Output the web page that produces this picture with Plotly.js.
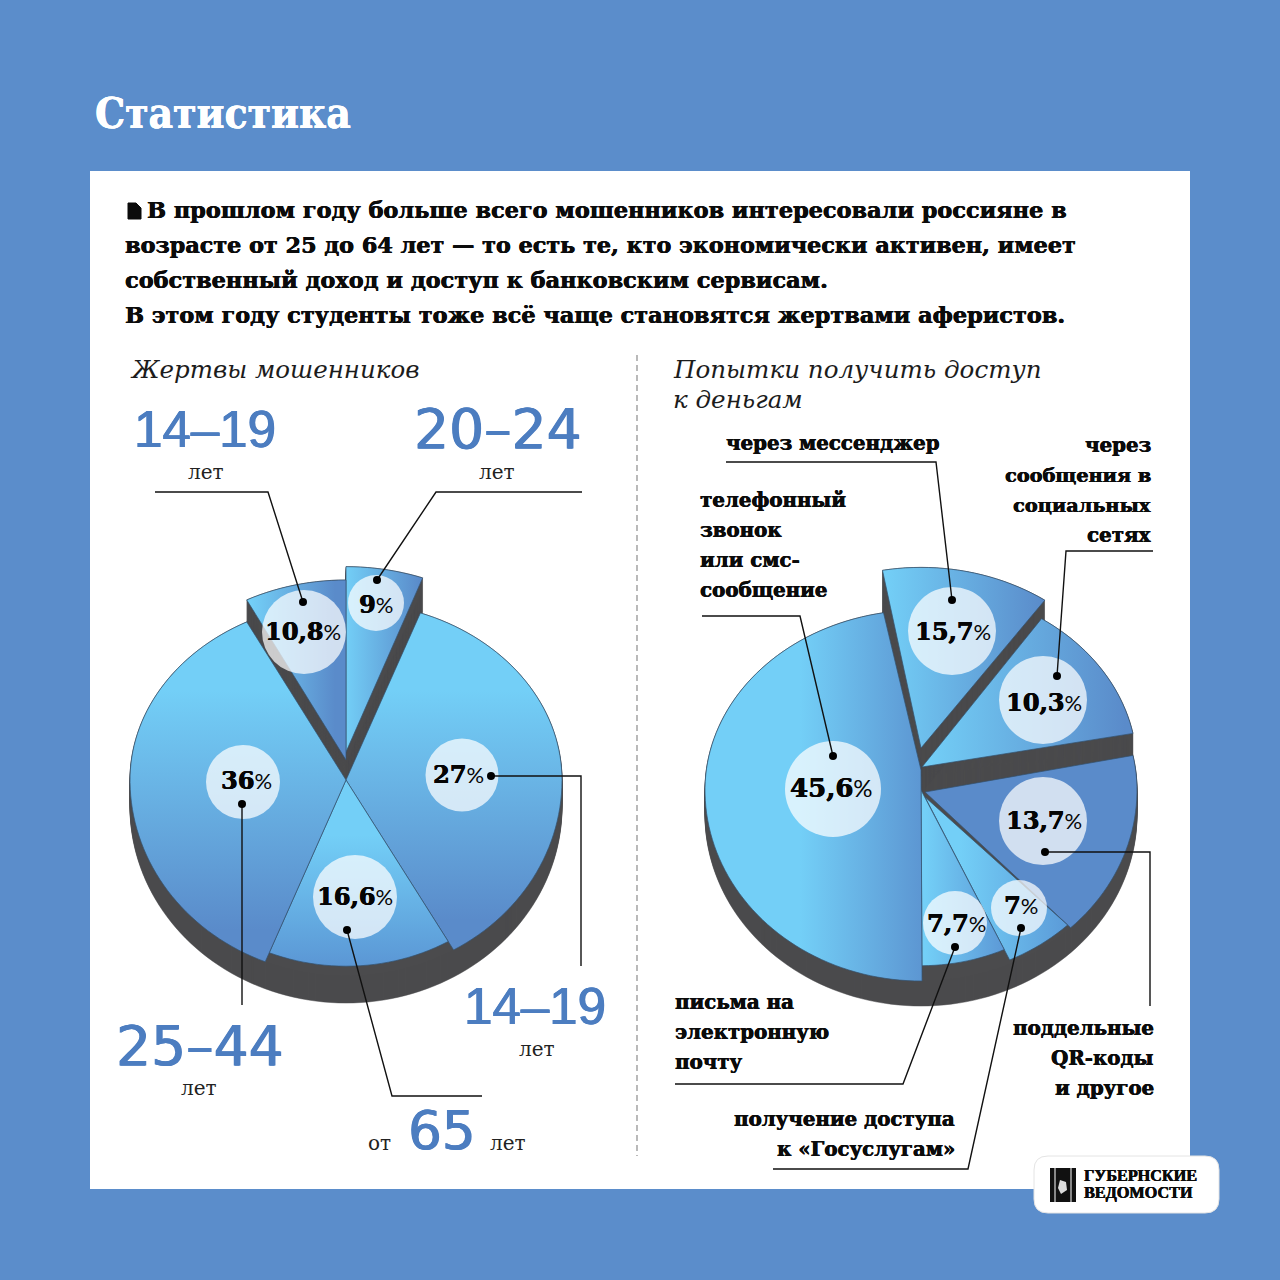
<!DOCTYPE html>
<html lang="ru"><head><meta charset="utf-8">
<script src="https://cdn.plot.ly/plotly-3.0.1.min.js"></script>
<style>html,body{margin:0;padding:0;background:#5b8dcb}</style></head>
<body><div id="chart" style="width:1280px;height:1280px"></div>
<script>
// ---------- data ----------
const victimCategories = ['20–24', '14–19', 'от 65', '25–44', '14–19'];
const victimValues = [9, 27, 16.6, 36, 10.8];
// the picture's wedges are not drawn to scale: apparent share of the ellipse each occupies
const victimDrawnShare = [5.6, 36.1, 14.4, 36.3, 7.6];

const channelCategories = ['через мессенджер', 'через сообщения в социальных сетях', 'поддельные QR-коды и другое', 'получение доступа к «Госуслугам»', 'письма на электронную почту', 'телефонный звонок или смс-сообщение'];
const channelValues = [15.7, 10.3, 13.7, 7, 7.7, 45.6];
const channelDrawnShare = [12.2, 12.5, 15.9, 5.3, 6.8, 47.3];

const title = 'Статистика';
const introLines = ['В прошлом году больше всего мошенников интересовали россияне в',
  'возрасте от 25 до 64 лет — то есть те, кто экономически активен, имеет',
  'собственный доход и доступ к банковским сервисам.',
  'В этом году студенты тоже всё чаще становятся жертвами аферистов.'];

// ---------- styling ----------
const BG = '#5b8dcb', LIGHT = '#73cff7', DARK = '#5a8bca', SIDE = '#4b4b4d', INK = '#0b0b0b', BLUE = '#4c7dc0';
const SLAB = '"DejaVu Serif"', SLABC = '"DejaVu Serif Condensed","DejaVu Serif"', SANS = '"Liberation Sans"', WIDE = '"DejaVu Sans"';

const leftPie = {cx: 346, cy: 780, rx: 216, ryT: 178, ryB: 196, depth: 27, start: 0,
  values: victimValues, share: victimDrawnShare,
  style: [
    {pullY: -30, scale: 1.03, apexY: 2, dark: 34, grad: ['horizontal', 345, 420]},
    {grad: ['vertical', 690, 920]},
    {scale: 0.95, grad: ['vertical', 835, 965, '#5b97d5']},
    {grad: ['vertical', 690, 930]},
    {pullY: -22, apexY: 2, dark: 28, grad: ['horizontal', 250, 335]}
  ]};
const rightPie = {cx: 921, cy: 790, rx: 216, ryT: 180, ryB: 191, depth: 25, start: 350,
  values: channelValues, share: channelDrawnShare,
  style: [
    {pullY: -30, scale: 1.07, xScale: 0.96, apexY: -12, dark: 45, grad: ['horizontal', 885, 1044]},
    {pullY: -22, apexX: 1, apexY: -1, dark: 26, grad: ['horizontal', 925, 1125]},
    {apexX: 4, apexY: 2, grad: ['horizontal', 925, 1020, DARK, DARK]},
    {scale: 0.98, apexX: 4, apexY: 7, grad: ['horizontal', 960, 1068, '#5b9ad8']},
    {scale: 0.92, grad: ['horizontal', 925, 1005, '#5c98d6']},
    {apexY: -20, grad: ['horizontal', 800, 935, '#5a90ce']}
  ]};

function pt(p, deg, cy, s, xs) {
  const a = deg * Math.PI / 180, c = Math.cos(a);
  return [p.cx + p.rx * s * xs * Math.sin(a), cy - (c > 0 ? p.ryT : p.ryB) * s * c];
}
function wedge(p, st, a0, a1) {
  const s = st.scale || 1, cy = p.cy + (st.pullY || 0), xs = [p.cx + (st.apexX || 0)], ys = [cy + (st.apexY || 0)];
  const n = Math.max(2, Math.ceil(Math.abs(a1 - a0) / 2));
  for (let i = 0; i <= n; i++) { const q = pt(p, a0 + (a1 - a0) * i / n, cy, s, st.xScale || 1); xs.push(q[0]); ys.push(q[1]); }
  xs.push(xs[0]); ys.push(ys[0]);
  return [xs, ys];
}
function pieTraces(p) {
  const dx = [], dy = [], faces = [];
  const push = (xs, ys, off) => { xs.forEach((v, i) => { dx.push(v); dy.push(ys[i] + off); }); dx.push(null); dy.push(null); };
  // body of the disc
  const disc = wedge(p, {apexY: 0}, 0, 360);
  for (let d = 0; d <= p.depth; d += 1) push(disc[0].slice(1), disc[1].slice(1), d);
  let a = p.start;
  p.share.forEach((sh, i) => {
    const st = p.style[i], a1 = a + sh * 3.6, w = wedge(p, st, a, a1);
    if (st.dark) for (let d = 0; d <= st.dark; d += 1) push(w[0], w[1], d);
    const g = st.grad, c1 = g[4] || LIGHT, c2 = g[3] || DARK;
    faces.push({x: w[0], y: w[1], type: 'scatter', mode: 'lines', fill: 'toself', hoverinfo: 'skip', showlegend: false,
      name: String(p.values[i]), line: {color: '#34526f', width: 0.7, simplify: false},
      fillgradient: {type: g[0], start: g[1], stop: g[2], colorscale: [[0, c1], [1, c2]]}});
    a = a1;
  });
  const side = {x: dx, y: dy, type: 'scatter', mode: 'lines', fill: 'toself', fillcolor: SIDE, hoverinfo: 'skip',
    showlegend: false, line: {color: SIDE, width: 0.5, simplify: false}};
  return [side].concat(faces);
}

// ---------- badges, leaders, text ----------
const badges = [
  [304, 632, 42], [376, 603, 28], [462, 775, 36.5], [243, 782, 37], [355, 897, 42],
  [952, 631, 44], [1043, 700, 44], [1043, 821, 44], [833, 789, 48], [955, 923, 32], [1019, 908, 28]];
const badgeLabels = [
  [victimValues[4], 303, 631, 24], [victimValues[0], 376, 604, 24], [victimValues[1], 458, 774, 24], [victimValues[3], 246, 780, 24], [victimValues[2], 355, 896, 24],
  [channelValues[0], 953, 631, 24], [channelValues[1], 1044, 702, 24], [channelValues[2], 1044, 820, 24], [channelValues[5], 831, 788, 26], [channelValues[4], 956, 923, 24], [channelValues[3], 1021, 905, 24]];
// each leader runs from its dot outward
const leaders = [
  [[303,602],[268,492],[155,492]], [[377,580],[436,492],[582,492]], [[491,776],[581,776],[581,966]],
  [[242,804],[242,1005]], [[347,930],[392,1096],[482,1096]],
  [[952,600],[936,462],[726,462]], [[1057,676],[1066,551],[1153,551]], [[833,756],[800,616],[702,616]],
  [[1045,852],[1150,852],[1150,1006]], [[955,947],[903,1084],[675,1084]], [[1021,928],[968,1169],[773,1169]]];

const B = 700, N = 400, LABEL = 19.8;
const texts = [
  // [text, x, y, anchor, size, family, colour, weight, style]
  [title, 95, 113, 'left', 42, SLABC, '#fff', B],
  [introLines[0], 147, 210, 'left', 22.4, SLAB, INK, B],
  [introLines[1], 125, 245, 'left', 22.3, SLAB, INK, B],
  [introLines[2], 125, 280, 'left', 22.4, SLAB, INK, B],
  [introLines[3], 125, 315, 'left', 22.4, SLAB, INK, B],
  ['Жертвы мошенников', 130, 369, 'left', 24.5, SLAB, '#1c1c1c', N, 'italic'],
  ['Попытки получить доступ', 673, 369, 'left', 24.6, SLAB, '#1c1c1c', N, 'italic'],
  ['к деньгам', 673, 399, 'left', 24.6, SLAB, '#1c1c1c', N, 'italic'],
  ['14–19', 205, 429, 'center', 51, SANS, BLUE, N], ['лет', 206, 472, 'center', 20, SLAB, '#222', N],
  ['20–24', 497, 429, 'center', 55, WIDE, BLUE, N], ['лет', 497, 472, 'center', 20, SLAB, '#222', N],
  ['14–19', 535, 1006, 'center', 51, SANS, BLUE, N], ['лет', 537, 1049, 'center', 20, SLAB, '#222', N],
  ['25–44', 199, 1046, 'center', 55, WIDE, BLUE, N], ['лет', 199, 1088, 'center', 20, SLAB, '#222', N],
  ['от', 379, 1143, 'center', 20, SLAB, '#222', N], ['65', 441, 1130, 'center', 53, WIDE, BLUE, N], ['лет', 508, 1143, 'center', 20, SLAB, '#222', N],
  ['через мессенджер', 726, 443, 'left', LABEL, SLAB, INK, B],
  ['через', 1151, 445, 'right', LABEL, SLAB, INK, B], ['сообщения в', 1151, 475, 'right', 19.3, SLAB, INK, B],
  ['социальных', 1151, 505, 'right', 19.3, SLAB, INK, B], ['сетях', 1151, 535, 'right', LABEL, SLAB, INK, B],
  ['телефонный', 700, 500, 'left', LABEL, SLAB, INK, B], ['звонок', 700, 530, 'left', LABEL, SLAB, INK, B],
  ['или смс-', 700, 560, 'left', LABEL, SLAB, INK, B], ['сообщение', 700, 590, 'left', LABEL, SLAB, INK, B],
  ['письма на', 675, 1002, 'left', LABEL, SLAB, INK, B], ['электронную', 675, 1032, 'left', LABEL, SLAB, INK, B], ['почту', 675, 1062, 'left', LABEL, SLAB, INK, B],
  ['поддельные', 1154, 1028, 'right', LABEL, SLAB, INK, B], ['QR-коды', 1154, 1058, 'right', LABEL, SLAB, INK, B], ['и другое', 1154, 1088, 'right', LABEL, SLAB, INK, B],
  ['получение доступа', 955, 1119, 'right', LABEL, SLAB, INK, B], ['к «Госуслугам»', 955, 1149, 'right', LABEL, SLAB, INK, B],
  ['ГУБЕРНСКИЕ', 1084, 1176, 'left', 16.2, '"Liberation Serif"', INK, B], ['ВЕДОМОСТИ', 1084, 1193, 'left', 16.2, '"Liberation Serif"', INK, B]
];

const embolden = c => '0.45px 0 0 ' + c + ', -0.2px 0 0 ' + c;
const annotations = texts.map(t => {
  const off = t[3] === 'left' ? -2 : t[3] === 'right' ? 2 : 0;
  const font = {size: t[4], family: t[5], color: t[6], weight: t[7], style: t[8] || 'normal'};
  if (t[7] === B) font.shadow = embolden(t[6]);
  if (t[6] === BLUE) font.shadow = '0.7px 0 0 ' + BLUE + ', -0.4px 0 0 ' + BLUE;
  return {text: t[0], x: t[1] + off, y: t[2], xref: 'x', yref: 'y', xanchor: t[3], yanchor: 'middle', showarrow: false, font};
});
badgeLabels.forEach(b => annotations.push({
  text: '<b>' + String(b[0]).replace('.', ',') + '</b><span style="font-family:Lato;font-size:' + (b[3] - 2) + 'px;font-weight:400;text-shadow:none">%</span>',
  x: b[1], y: b[2], xref: 'x', yref: 'y', xanchor: 'center', yanchor: 'middle', showarrow: false,
  font: {size: b[3], family: SLAB, color: '#050505', shadow: '0.5px 0 0 #000, -0.3px 0 0 #000'}}));

const shapes = [
  {type: 'rect', layer: 'below', x0: 90, x1: 1190, y0: 171, y1: 1189, fillcolor: '#fff', line: {width: 0}},
  {type: 'line', layer: 'below', x0: 637, x1: 637, y0: 355, y1: 1156, line: {color: '#8c8c8c', width: 1.2, dash: '6px,4px'}},
  // document glyph before the first line
  {type: 'path', layer: 'above', path: 'M128,203 L136,203 L141,208 L141,219 L128,219 Z', fillcolor: INK, line: {color: INK, width: 1}},
  // publisher plate
  {type: 'path', layer: 'above', path: 'M1048,1156 L1205,1156 Q1219,1156 1219,1170 L1219,1199 Q1219,1213 1205,1213 L1048,1213 Q1034,1213 1034,1199 L1034,1170 Q1034,1156 1048,1156 Z', fillcolor: '#fff', line: {color: '#e4e4e4', width: 1}},
  {type: 'rect', layer: 'above', x0: 1050, x1: 1076, y0: 1168, y1: 1202, fillcolor: '#111', line: {width: 0}},
  {type: 'rect', layer: 'above', x0: 1054, x1: 1056, y0: 1168, y1: 1202, fillcolor: '#888', line: {width: 0}},
  {type: 'rect', layer: 'above', x0: 1070, x1: 1072, y0: 1168, y1: 1202, fillcolor: '#888', line: {width: 0}},
  {type: 'path', layer: 'above', path: 'M1060,1180 L1066,1182 L1067,1190 L1061,1194 L1058,1188 Z', fillcolor: '#ddd', line: {width: 0}}
];
badges.forEach(b => shapes.push({type: 'circle', layer: 'above', x0: b[0] - b[2], x1: b[0] + b[2], y0: b[1] - b[2], y1: b[1] + b[2],
  fillcolor: 'rgba(255,255,255,0.72)', line: {width: 0}}));
leaders.forEach(l => {
  shapes.push({type: 'path', layer: 'above', path: 'M' + l.map(q => q.join(',')).join(' L'), line: {color: '#111', width: 1.4}});
  const d = l[0];
  shapes.push({type: 'circle', layer: 'above', x0: d[0] - 4, x1: d[0] + 4, y0: d[1] - 4, y1: d[1] + 4, fillcolor: '#000', line: {width: 0}});
});

const data = pieTraces(leftPie).concat(pieTraces(rightPie));
const layout = {width: 1280, height: 1280, margin: {l: 0, r: 0, t: 0, b: 0}, paper_bgcolor: BG, plot_bgcolor: BG, showlegend: false,
  xaxis: {range: [0, 1280], visible: false, fixedrange: true},
  yaxis: {range: [1280, 0], visible: false, fixedrange: true},
  shapes, annotations};
Plotly.newPlot('chart', data, layout, {displayModeBar: false, staticPlot: true});
</script></body></html>
